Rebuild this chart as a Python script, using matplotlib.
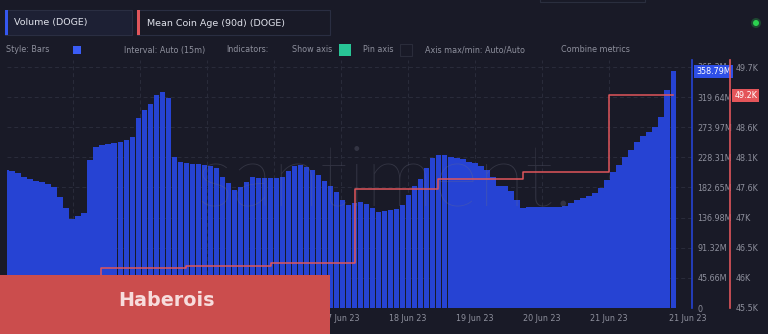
import matplotlib
matplotlib.use("Agg")
import matplotlib.pyplot as plt
import matplotlib.dates as mdates
import matplotlib.transforms as mtransforms
from matplotlib.patches import Rectangle, Circle
import pandas as pd

W, H = 768, 334
BG = "#191a27"
BLUE = "#2643d3"
RED = "#e0565b"
GRID = "#2a2c3b"
TXT = "#8e909d"

# DOGE volume (millions), one bar per ~2h from 12 Jun 00:00 to 21 Jun 23:00
volume_m = [
    209.3, 207.8, 204.8, 198.7, 195.7, 192.7, 191.2, 188.1, 183.6, 168.4,
    151.7, 135.0, 139.6, 144.1, 224.5, 244.2, 247.3, 248.8, 250.3, 251.8,
    254.9, 259.4, 288.2, 300.4, 309.5, 323.1, 327.7, 318.6, 229.1, 221.5,
    220.0, 218.4, 218.4, 216.9, 215.4, 212.4, 198.7, 189.6, 179.0, 183.6,
    191.2, 198.7, 197.2, 197.2, 197.2, 197.2, 198.7, 207.8, 215.4, 216.9,
    213.9, 209.3, 201.8, 192.7, 185.1, 176.0, 163.8, 156.3, 159.3, 160.8,
    157.8, 151.7, 145.6, 147.1, 148.7, 150.2, 156.3, 171.4, 185.1, 195.7,
    212.4, 227.6, 232.1, 232.1, 229.1, 227.6, 226.0, 221.5, 220.0, 215.4,
    209.3, 198.7, 185.1, 185.1, 177.5, 163.8, 151.7, 153.2, 153.2, 153.2,
    153.2, 153.2, 153.2, 154.7, 159.3, 163.8, 166.9, 169.9, 174.5, 182.0,
    194.2, 206.3, 216.9, 229.1, 239.7, 251.8, 260.9, 267.0, 274.6, 289.7,
    330.7, 358.79,
]
vol_start, vol_end = "2023-06-12 00:00", "2023-06-21 23:00"

# mean coin age (90d), thousands, step changes
age_times = ["2023-06-12 00:00", "2023-06-13 10:00", "2023-06-14 16:30",
             "2023-06-15 23:00", "2023-06-17 05:00", "2023-06-18 10:45",
             "2023-06-19 17:10", "2023-06-21 00:00", "2023-06-21 23:00"]
age_k = [45.85, 46.20, 46.23, 46.28, 47.57, 47.75, 47.87, 49.21, 49.21]

vol_ticks = [0, 45.66, 91.32, 136.98, 182.65, 228.31, 273.97, 319.64, 365.3]
vol_labels = ["0", "45.66M", "91.32M", "136.98M", "182.65M", "228.31M",
              "273.97M", "319.64M", "365.3M"]
age_ticks = [45.5, 46.025, 46.55, 47.075, 47.6, 48.125, 48.65, 49.175, 49.7]
age_labels = ["45.5K", "46K", "46.5K", "47K", "47.6K", "48.1K", "48.6K",
              "49.2K", "49.7K"]
day_ticks = pd.date_range("2023-06-13", "2023-06-21", freq="D")

fig = plt.figure(figsize=(W / 100, H / 100), dpi=100, facecolor=BG)
ax = fig.add_axes([7 / W, 26 / H, 685 / W, 248 / H])
ax.set_facecolor(BG)
ax2 = ax.twinx()

# x scale: 17 Jun sits at pixel 341, 67 px per day
d17 = mdates.date2num(pd.Timestamp("2023-06-17"))
ax.set_xlim(d17 - 334 / 67, d17 + 351 / 67)
ax.set_ylim(0, 375.9)

times = pd.date_range(vol_start, vol_end, periods=len(volume_m))
step = (times[1] - times[0]).total_seconds() / 86400
ax.bar(times, volume_m, width=step * 0.9, color=BLUE, linewidth=0, zorder=2)

ax.set_xticks(day_ticks)
ax.xaxis.set_major_formatter(mdates.DateFormatter("%d %b %y"))
ax.tick_params(axis="x", length=0, pad=4, labelsize=5.8, labelcolor=TXT)
ax.yaxis.tick_right()
ax.set_yticks(vol_ticks, vol_labels)
ax.tick_params(axis="y", length=0, pad=4, labelsize=5.8, labelcolor=TXT)
ax.grid(True, color=GRID, linestyle=(0, (4, 3)), linewidth=0.7)
ax.set_axisbelow(True)
for s in ["top", "left", "bottom"]:
    ax.spines[s].set_visible(False)
ax.spines["right"].set_color(BLUE)
ax.spines["right"].set_linewidth(1.2)

ax.annotate("21 Jun 23", xy=((688 - 7) / 685, 0), xycoords="axes fraction",
            xytext=(0, -4), textcoords="offset points", ha="center", va="top",
            fontsize=5.8, color=TXT)

# watermark
ax.text(385 / W, 1 - 205 / H, "santiment.", transform=fig.transFigure,
        ha="center", va="baseline", fontsize=62, family="Lato", weight="light",
        color="#707284", alpha=0.3, zorder=3)

blend = mtransforms.blended_transform_factory(ax.transAxes, ax.transData)
ax.annotate(f"{volume_m[-1]:.2f}M", xy=(1, volume_m[-1]), xycoords=blend,
            xytext=(3, 0), textcoords="offset points", ha="left", va="center",
            fontsize=5.8, color="white", zorder=10,
            bbox=dict(boxstyle="square,pad=0.25", fc="#2e4fe6", ec="none"))

ax2.set_ylim(45.5, 45.5 + 248 / 57.38)
ax2.step(pd.to_datetime(age_times), age_k, where="post", color=RED, lw=1.1)
ax2.set_yticks(age_ticks, age_labels)
ax2.tick_params(axis="y", length=0, pad=4, labelsize=5.8, labelcolor=TXT)
for s in ["top", "left", "bottom"]:
    ax2.spines[s].set_visible(False)
ax2.spines["right"].set_position(("axes", 723 / 685))
ax2.spines["right"].set_color(RED)
ax2.spines["right"].set_linewidth(1.2)

blend2 = mtransforms.blended_transform_factory(ax2.transAxes, ax2.transData)
ax2.annotate(f"{age_k[-1]:.1f}K", xy=(723 / 685, age_k[-1]), xycoords=blend2,
             xytext=(3, 0), textcoords="offset points", ha="left", va="center",
             fontsize=5.8, color="white", zorder=10,
             bbox=dict(boxstyle="square,pad=0.25", fc="#e4555a", ec="none"))

# header / overlay in pixel coordinates
ov = fig.add_axes([0, 0, 1, 1])
ov.set_xlim(0, W)
ov.set_ylim(H, 0)
ov.axis("off")
ov.patch.set_alpha(0)

ov.add_patch(Rectangle((5, 10), 127, 25, fc="#1d2034", ec="#2a2e42", lw=0.8))
ov.add_patch(Rectangle((5, 10), 3, 25, fc="#3557f0", ec="none"))
ov.text(14, 23, "Volume (DOGE)", fontsize=6.8, color="#dfe1ea", va="center")
ov.add_patch(Rectangle((137, 10), 193, 25, fc=BG, ec="#2a2e42", lw=0.8))
ov.add_patch(Rectangle((137, 10), 3, 25, fc=RED, ec="none"))
ov.text(147, 23, "Mean Coin Age (90d) (DOGE)", fontsize=6.8, color="#dfe1ea",
        va="center")
ov.add_patch(Rectangle((540, -6), 105, 8, fc="none", ec="#2a2e3e", lw=0.8))
ov.add_patch(Circle((756, 23), 5, fc="#2bd24f", ec="none", alpha=0.25))
ov.add_patch(Circle((756, 23), 3, fc="#2bd24f", ec="none"))

row_y = 50
for x, s in [(6, "Style: Bars"), (124, "Interval: Auto (15m)"),
             (226, "Indicators:"), (292, "Show axis"), (363, "Pin axis"),
             (425, "Axis max/min: Auto/Auto"), (561, "Combine metrics")]:
    ov.text(x, row_y, s, fontsize=5.8, color=TXT, va="center")
ov.add_patch(Rectangle((73, 46), 8, 8, fc="#3a5cf5", ec="none"))
ov.add_patch(Rectangle((339, 44), 12, 12, fc="#28c596", ec="none"))
ov.add_patch(Rectangle((400, 44), 12, 12, fc="none", ec="#2a2c3a", lw=0.8))

ov.add_patch(Rectangle((0, 275), 330, 60, fc="#cb4d4d", ec="none"))
ov.text(166, 300, "Haberois", fontsize=13.8, weight="bold", color="#f7dcdc",
        ha="center", va="center")

fig.savefig("out.png", dpi=100, facecolor=BG)
